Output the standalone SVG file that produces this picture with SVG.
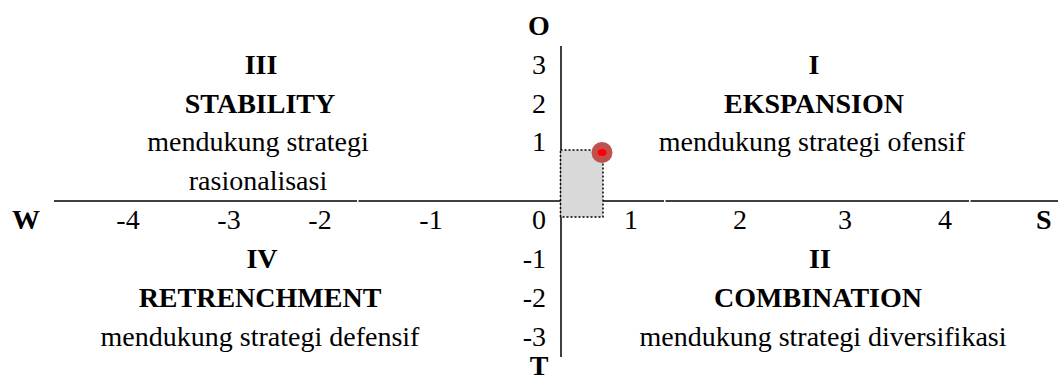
<svg xmlns="http://www.w3.org/2000/svg" width="1058" height="381" viewBox="0 0 1058 381">
<style>
text{font-family:"Liberation Serif","Times New Roman",serif;font-size:28px;fill:#000}
.b{font-weight:bold}
.c{text-anchor:middle}
.e{text-anchor:end}
.axis{stroke:#000;stroke-width:1.5;fill:none}
</style>
<rect width="1058" height="381" fill="#fff"/>
<g id="connectors">
<line class="axis" x1="54" y1="201" x2="357" y2="201"/>
<line class="axis" x1="358.5" y1="201" x2="664" y2="201"/>
<line class="axis" x1="665.5" y1="201" x2="969" y2="201"/>
<line class="axis" x1="970.5" y1="201" x2="1058" y2="201"/>
<line class="axis" x1="561" y1="46" x2="561" y2="357"/>
</g>
<g id="y-labels">
<text class="b c" x="539" y="35">O</text>
<text class="e" x="546" y="74">3</text>
<text class="e" x="546" y="113">2</text>
<text class="e" x="546" y="151">1</text>
<text class="e" x="546" y="229">0</text>
<text class="e" x="546" y="268">-1</text>
<text class="e" x="546" y="307">-2</text>
<text class="e" x="546" y="346">-3</text>
<text class="b c" x="539" y="375">T</text>
</g>
<g id="x-labels">
<text class="b" x="12" y="229">W</text>
<text class="c" x="128" y="229">-4</text>
<text class="c" x="229" y="229">-3</text>
<text class="c" x="320" y="229">-2</text>
<text class="c" x="431" y="229">-1</text>
<text class="c" x="631" y="229">1</text>
<text class="c" x="740" y="229">2</text>
<text class="c" x="845" y="229">3</text>
<text class="c" x="945" y="229">4</text>
<text class="b" x="1036" y="229">S</text>
</g>
<g id="q3">
<text class="b c" x="261" y="74">III</text>
<text class="b c" x="260" y="113">STABILITY</text>
<text class="c" x="258" y="151">mendukung strategi</text>
<text class="c" x="258" y="190">rasionalisasi</text>
</g>
<g id="q1">
<text class="b c" x="814" y="74">I</text>
<text class="b c" x="814" y="113">EKSPANSION</text>
<text class="c" x="812" y="151">mendukung strategi ofensif</text>
</g>
<g id="q4">
<text class="b c" x="262" y="268">IV</text>
<text class="b c" x="260" y="307">RETRENCHMENT</text>
<text class="c" x="260" y="346">mendukung strategi defensif</text>
</g>
<g id="q2">
<text class="b c" x="820" y="268">II</text>
<text class="b c" x="818" y="307">COMBINATION</text>
<text class="c" x="823" y="346">mendukung strategi diversifikasi</text>
</g>
<g id="position">
<rect x="560.5" y="150" width="42.5" height="67" fill="#d9d9d9" stroke="#000" stroke-width="1.5" stroke-dasharray="2,2"/>
<circle cx="602" cy="152.5" r="10.5" fill="#c0504d"/>
<ellipse cx="602" cy="152.5" rx="4.5" ry="3.5" fill="#ff0000"/>
</g>
</svg>
